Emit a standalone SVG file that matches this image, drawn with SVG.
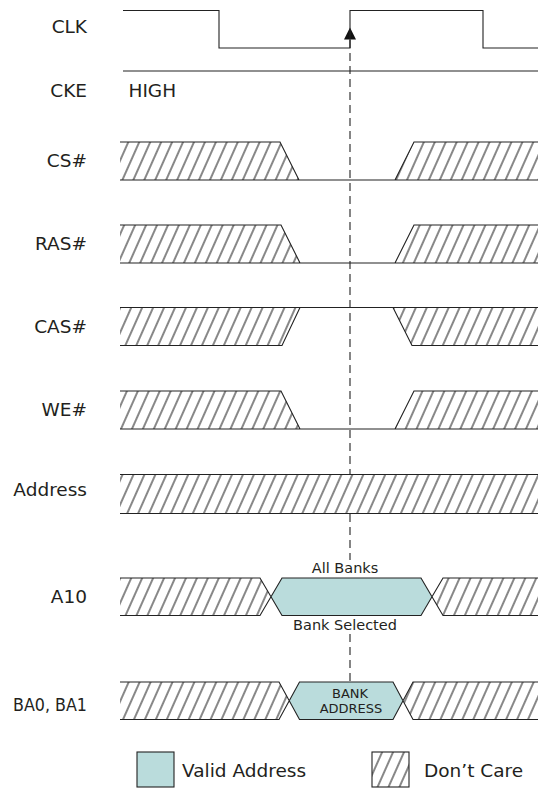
<svg xmlns="http://www.w3.org/2000/svg" width="538" height="789" viewBox="0 0 538 789">
<defs>
<pattern id="hatch" patternUnits="userSpaceOnUse" width="10" height="20" patternTransform="rotate(24)">
<rect x="-1" y="-1" width="12" height="22" fill="#fff"/>
<line x1="5" y1="-1" x2="5" y2="21" stroke="#111" stroke-width="1"/>
</pattern>
<style>
.lbl{font-family:"DejaVu Sans","Noto Sans",sans-serif;font-size:18.5px;fill:#231f20}
.sm{font-family:"DejaVu Sans","Noto Sans",sans-serif;font-size:14.5px;fill:#231f20}
.xs{font-family:"DejaVu Sans","Noto Sans",sans-serif;font-size:13px;fill:#231f20}
.h{fill:url(#hatch);stroke:none}
.v{fill:#badcdc;stroke:none}
.ln{fill:none;stroke:#222;stroke-width:1.1}
.dash{fill:none;stroke:#222;stroke-width:1.1;stroke-dasharray:8,5}
</style>
</defs>
<rect width="538" height="789" fill="#fff"/>

<g id="connectors">
<line class="dash" x1="350" y1="40" x2="350" y2="474"/>
<line class="dash" x1="350" y1="514" x2="350" y2="560"/>
<line class="dash" x1="350" y1="634" x2="350" y2="682"/>
<path d="M350,27.5 L356,39.5 L344,39.5 Z" fill="#111"/>
</g>

<g id="clk">
<text class="lbl" x="87" y="32.5" text-anchor="end">CLK</text>
<path class="ln" d="M123,10.5 H219 V48 H350 V10.5 H483 V48 H538" stroke="#333" stroke-width="1.3"/>
</g>

<g id="cke">
<text class="lbl" x="87" y="97" text-anchor="end">CKE</text>
<text class="lbl" x="128.5" y="97">HIGH</text>
<path class="ln" d="M123,71 H538"/>
</g>

<g id="cs">
<text class="lbl" x="87" y="166.7" text-anchor="end">CS#</text>
<polygon class="h" points="120,142 280,142 299,180 120,180"/>
<polygon class="h" points="395,180 414,142 538,142 538,180"/>
<path class="ln" d="M120,142 H280 L299,180 M120,180 H538 M395,180 L414,142 H538"/>
</g>

<g id="ras">
<text class="lbl" x="87" y="249.7" text-anchor="end">RAS#</text>
<polygon class="h" points="120,225 281,225 300,263 120,263"/>
<polygon class="h" points="395,263 414,225 538,225 538,263"/>
<path class="ln" d="M120,225 H281 L300,263 M120,263 H538 M395,263 L414,225 H538"/>
</g>

<g id="cas">
<text class="lbl" x="87" y="332.7" text-anchor="end">CAS#</text>
<polygon class="h" points="120,307.5 300,307.5 282,345.5 120,345.5"/>
<polygon class="h" points="393,307.5 412,345.5 538,345.5 538,307.5"/>
<path class="ln" d="M120,307.5 H538 M120,345.5 H282 L300,307.5 M393,307.5 L412,345.5 H538"/>
</g>

<g id="we">
<text class="lbl" x="87" y="415.7" text-anchor="end">WE#</text>
<polygon class="h" points="120,391 281,391 300,429 120,429"/>
<polygon class="h" points="395,429 414,391 538,391 538,429"/>
<path class="ln" d="M120,391 H281 L300,429 M120,429 H538 M395,429 L414,391 H538"/>
</g>

<g id="address">
<text class="lbl" x="87" y="496" text-anchor="end">Address</text>
<rect class="h" x="120" y="474.5" width="418" height="39"/>
<path class="ln" d="M120,474.5 H538 M120,513.5 H538"/>
</g>

<g id="a10">
<text class="lbl" x="87" y="603" text-anchor="end">A10</text>
<polygon class="h" points="120,578 260,578 271,596.7 260,615.5 120,615.5"/>
<polygon class="v" points="271,596.7 282,578 421,578 432,596.7 421,615.5 282,615.5"/>
<polygon class="h" points="432,596.7 443,578 538,578 538,615.5 443,615.5"/>
<path class="ln" d="M120,578 H260 L282,615.5 H421 L443,578 H538 M120,615.5 H260 L282,578 H421 L443,615.5 H538"/>
<text class="sm" x="345" y="573" text-anchor="middle">All Banks</text>
<text class="sm" x="345" y="630" text-anchor="middle">Bank Selected</text>
</g>

<g id="ba">
<text class="lbl" x="87" y="710.7" text-anchor="end" textLength="74" lengthAdjust="spacingAndGlyphs">BA0, BA1</text>
<polygon class="h" points="120,682 279,682 289.3,700.7 279,719.5 120,719.5"/>
<polygon class="v" points="289.3,700.7 299.5,682 393,682 403.3,700.7 393,719.5 299.5,719.5"/>
<polygon class="h" points="403.3,700.7 413,682 538,682 538,719.5 413,719.5"/>
<path class="ln" d="M120,682 H279 L299.5,719.5 H393 L413,682 H538 M120,719.5 H279 L299.5,682 H393 L413,719.5 H538"/>
<text class="xs" x="350" y="697.7" text-anchor="middle">BANK</text>
<text class="xs" x="351" y="713.3" text-anchor="middle">ADDRESS</text>
</g>

<g id="legend-valid">
<rect x="137" y="752" width="37" height="35" fill="#badcdc" stroke="#222" stroke-width="1.1"/>
<text class="lbl" x="182" y="777">Valid Address</text>
</g>
<g id="legend-dontcare">
<rect x="372" y="752" width="37" height="35" fill="url(#hatch)" stroke="#222" stroke-width="1.1"/>
<text class="lbl" x="424" y="777">Don’t Care</text>
</g>
</svg>
